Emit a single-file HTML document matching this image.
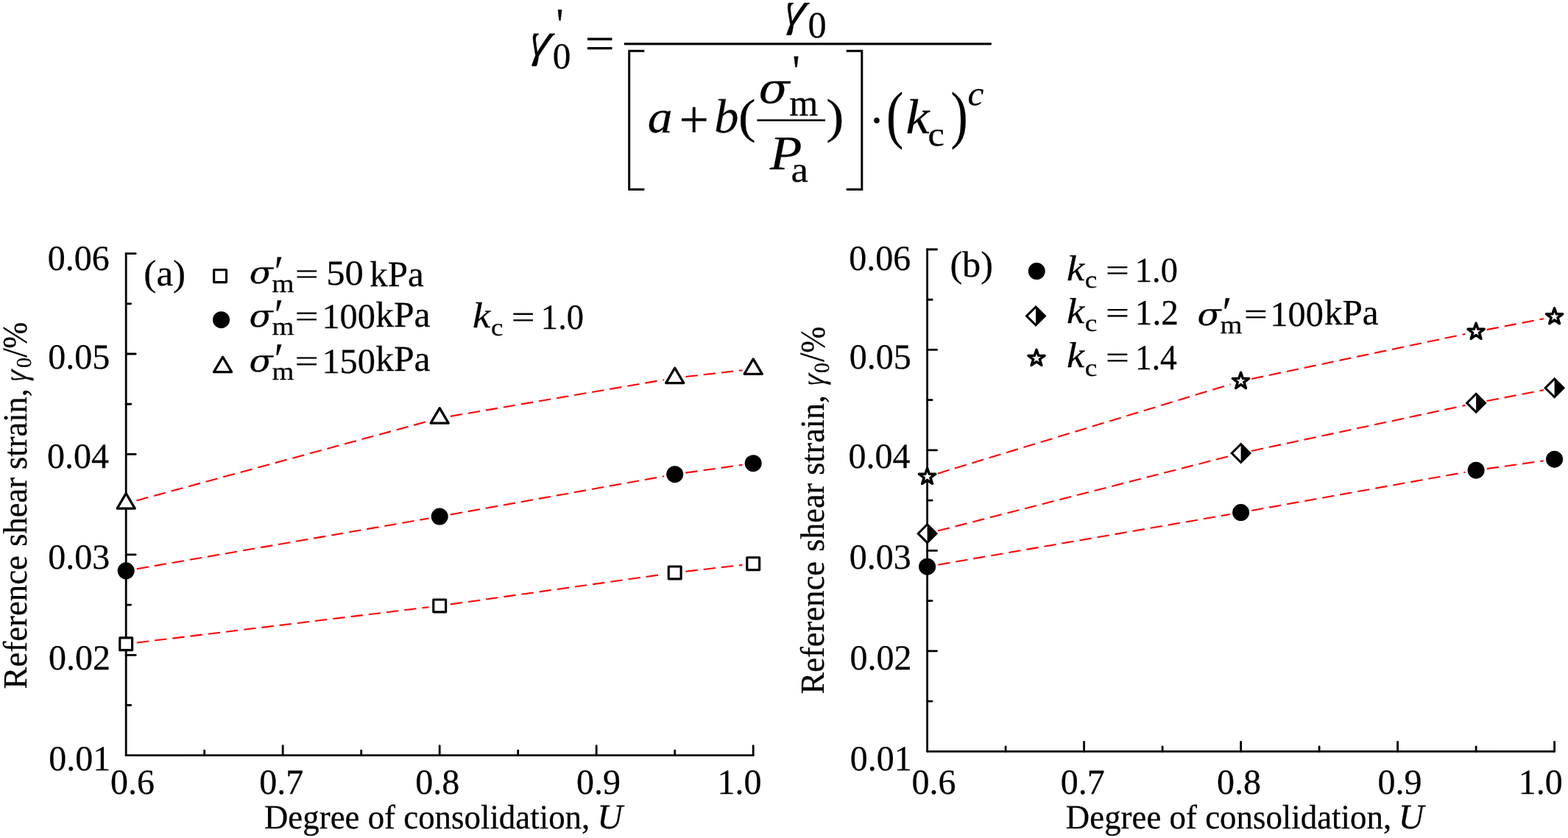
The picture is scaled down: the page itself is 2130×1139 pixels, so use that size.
<!DOCTYPE html>
<html lang="en"><head><meta charset="utf-8"><title>Reference shear strain versus degree of consolidation</title>
<style>
html,body{margin:0;padding:0;background:#fff;}
body{width:2130px;height:1139px;overflow:hidden;}
svg{display:block;font-family:"Liberation Serif","DejaVu Serif",serif;fill:#000;}
text{stroke:#000;stroke-width:0.25px;}
text{white-space:pre;text-rendering:geometricPrecision;}
</style></head><body>
<svg width="2130" height="1139" viewBox="0 0 2130 1139">
<rect width="2130" height="1139" fill="#fff"/>
<g id="formula">
<text transform="translate(744.75 76.21) scale(1.0443 1) skewX(-16) scale(-1 1)" font-size="65.78">γ</text>
<text transform="translate(750.81 92.85) scale(0.9904 1)" font-size="49.75">0</text>
<text transform="translate(755.43 54.28) scale(0.8957 1)" font-size="62.17" stroke="none">'</text>
<text transform="translate(794.52 79.95) scale(1.1468 1)" font-size="62.24">=</text>
<line x1="847.90" y1="59.70" x2="1346.80" y2="59.70" stroke="#000" stroke-width="3.2" stroke-linecap="butt"/>
<text transform="translate(1090.74 34.11) scale(1.0428 1) skewX(-16) scale(-1 1)" font-size="65.56">γ</text>
<text transform="translate(1097.52 51.25) scale(0.9977 1)" font-size="50.33">0</text>
<path d="M875.3 69.3 H854.7 V257.6 H875.3" fill="none" stroke="#000" stroke-width="3.0"/>
<path d="M1149.7 69.3 H1170.8 V257.6 H1149.7" fill="none" stroke="#000" stroke-width="3.0"/>
<text transform="translate(879.83 180.33) scale(1.077 1)" font-size="62.77" font-style="italic">a</text>
<text transform="translate(922.44 187.37) scale(0.9844 1)" font-size="72.9">+</text>
<text transform="translate(970.24 180.31) scale(1.0185 1)" font-size="65.4" font-style="italic">b</text>
<text transform="translate(1002.93 180.25) scale(1.0815 1)" font-size="65.3">(</text>
<text transform="translate(1030.39 140.26) scale(1.0907 1)" font-size="56.86" font-style="italic" stroke="none" font-family="'DejaVu Serif','Liberation Serif',serif">σ</text>
<text transform="translate(1072.3 157.1) scale(0.9949 1)" font-size="50.43">m</text>
<text transform="translate(1076.14 117.0) scale(0.9467 1)" font-size="61.49" stroke="none">'</text>
<line x1="1028.40" y1="163.50" x2="1121.00" y2="163.50" stroke="#000" stroke-width="2.4" stroke-linecap="butt"/>
<text transform="translate(1045.72 229.98) scale(1.088 1)" font-size="65.66" font-style="italic">P</text>
<text transform="translate(1074.6 247.31) scale(1.0761 1)" font-size="49.15">a</text>
<text transform="translate(1122.26 180.07) scale(1.1084 1)" font-size="65.45">)</text>
<text transform="translate(1180.27 184.69) scale(1.0 1)" font-size="64.34">·</text>
<text transform="translate(1204.06 184.86) scale(0.8038 1)" font-size="86.8">(</text>
<text transform="translate(1230.38 180.99) scale(1.0848 1)" font-size="66.59" font-style="italic">k</text>
<text transform="translate(1260.62 197.58) scale(1.0856 1)" font-size="46.42">c</text>
<text transform="translate(1291.59 184.86) scale(0.804 1)" font-size="86.8">)</text>
<text transform="translate(1314.5 142.9) scale(1.051 1)" font-size="46.85" font-style="italic">c</text>
</g>
<g id="plot-a">
<line x1="185.89" y1="873.49" x2="582.51" y2="825.22" stroke="#ff0000" stroke-width="2.1" stroke-dasharray="16.4 8"/>
<line x1="611.86" y1="821.37" x2="902.04" y2="780.48" stroke="#ff0000" stroke-width="2.1" stroke-dasharray="16.4 8"/>
<line x1="931.40" y1="776.72" x2="1008.50" y2="767.83" stroke="#ff0000" stroke-width="2.1" stroke-dasharray="16.4 8"/>
<line x1="185.78" y1="773.30" x2="582.62" y2="704.55" stroke="#ff0000" stroke-width="2.1" stroke-dasharray="16.4 8"/>
<line x1="611.77" y1="699.41" x2="902.13" y2="647.34" stroke="#ff0000" stroke-width="2.1" stroke-dasharray="16.4 8"/>
<line x1="931.36" y1="642.66" x2="1008.54" y2="631.78" stroke="#ff0000" stroke-width="2.1" stroke-dasharray="16.4 8"/>
<line x1="185.48" y1="680.40" x2="582.92" y2="572.22" stroke="#ff0000" stroke-width="2.1" stroke-dasharray="16.4 8"/>
<line x1="611.79" y1="565.84" x2="902.11" y2="516.25" stroke="#ff0000" stroke-width="2.1" stroke-dasharray="16.4 8"/>
<line x1="931.40" y1="512.07" x2="1008.50" y2="503.18" stroke="#ff0000" stroke-width="2.1" stroke-dasharray="16.4 8"/>
<line x1="171.20" y1="344.60" x2="171.20" y2="1026.70" stroke="#000" stroke-width="2.8" stroke-linecap="round"/>
<line x1="171.20" y1="1026.70" x2="1023.20" y2="1026.70" stroke="#000" stroke-width="2.8" stroke-linecap="round"/>
<line x1="171.20" y1="958.49" x2="177.70" y2="958.49" stroke="#000" stroke-width="2.8" stroke-linecap="round"/>
<line x1="171.20" y1="890.28" x2="184.20" y2="890.28" stroke="#000" stroke-width="2.8" stroke-linecap="round"/>
<line x1="171.20" y1="822.07" x2="177.70" y2="822.07" stroke="#000" stroke-width="2.8" stroke-linecap="round"/>
<line x1="171.20" y1="753.86" x2="184.20" y2="753.86" stroke="#000" stroke-width="2.8" stroke-linecap="round"/>
<line x1="171.20" y1="685.65" x2="177.70" y2="685.65" stroke="#000" stroke-width="2.8" stroke-linecap="round"/>
<line x1="171.20" y1="617.44" x2="184.20" y2="617.44" stroke="#000" stroke-width="2.8" stroke-linecap="round"/>
<line x1="171.20" y1="549.23" x2="177.70" y2="549.23" stroke="#000" stroke-width="2.8" stroke-linecap="round"/>
<line x1="171.20" y1="481.02" x2="184.20" y2="481.02" stroke="#000" stroke-width="2.8" stroke-linecap="round"/>
<line x1="171.20" y1="412.81" x2="177.70" y2="412.81" stroke="#000" stroke-width="2.8" stroke-linecap="round"/>
<line x1="171.20" y1="344.60" x2="184.20" y2="344.60" stroke="#000" stroke-width="2.8" stroke-linecap="round"/>
<line x1="277.70" y1="1026.70" x2="277.70" y2="1020.20" stroke="#000" stroke-width="2.8" stroke-linecap="round"/>
<line x1="384.20" y1="1026.70" x2="384.20" y2="1013.70" stroke="#000" stroke-width="2.8" stroke-linecap="round"/>
<line x1="490.70" y1="1026.70" x2="490.70" y2="1020.20" stroke="#000" stroke-width="2.8" stroke-linecap="round"/>
<line x1="597.20" y1="1026.70" x2="597.20" y2="1013.70" stroke="#000" stroke-width="2.8" stroke-linecap="round"/>
<line x1="703.70" y1="1026.70" x2="703.70" y2="1020.20" stroke="#000" stroke-width="2.8" stroke-linecap="round"/>
<line x1="810.20" y1="1026.70" x2="810.20" y2="1013.70" stroke="#000" stroke-width="2.8" stroke-linecap="round"/>
<line x1="916.70" y1="1026.70" x2="916.70" y2="1020.20" stroke="#000" stroke-width="2.8" stroke-linecap="round"/>
<line x1="1023.20" y1="1026.70" x2="1023.20" y2="1013.70" stroke="#000" stroke-width="2.8" stroke-linecap="round"/>
<rect x="162.77" y="866.85" width="16.85" height="16.85" fill="#fff" stroke="#000" stroke-width="3.15" stroke-linejoin="round"/>
<rect x="588.78" y="815.01" width="16.85" height="16.85" fill="#fff" stroke="#000" stroke-width="3.15" stroke-linejoin="round"/>
<rect x="908.27" y="769.99" width="16.85" height="16.85" fill="#fff" stroke="#000" stroke-width="3.15" stroke-linejoin="round"/>
<rect x="1014.78" y="757.71" width="16.85" height="16.85" fill="#fff" stroke="#000" stroke-width="3.15" stroke-linejoin="round"/>
<circle cx="171.20" cy="775.82" r="11.5" fill="#000"/>
<circle cx="597.20" cy="702.02" r="11.5" fill="#000"/>
<circle cx="916.70" cy="644.72" r="11.5" fill="#000"/>
<circle cx="1023.20" cy="629.72" r="11.5" fill="#000"/>
<path d="M171.20 670.62 L183.25 691.12 L159.15 691.12 Z" fill="#fff" stroke="#000" stroke-width="3.2" stroke-linejoin="round"/>
<path d="M597.20 554.66 L609.25 575.16 L585.15 575.16 Z" fill="#fff" stroke="#000" stroke-width="3.2" stroke-linejoin="round"/>
<path d="M916.70 500.09 L928.75 520.59 L904.65 520.59 Z" fill="#fff" stroke="#000" stroke-width="3.2" stroke-linejoin="round"/>
<path d="M1023.20 487.82 L1035.25 508.32 L1011.15 508.32 Z" fill="#fff" stroke="#000" stroke-width="3.2" stroke-linejoin="round"/>
<text x="64.74" y="366.8" font-size="48" textLength="84.00" lengthAdjust="spacingAndGlyphs">0.06</text>
<text x="65.22" y="500.6" font-size="48" textLength="84.00" lengthAdjust="spacingAndGlyphs">0.05</text>
<text x="64.02" y="636.4" font-size="48" textLength="84.00" lengthAdjust="spacingAndGlyphs">0.04</text>
<text x="65.22" y="772.8" font-size="48" textLength="84.00" lengthAdjust="spacingAndGlyphs">0.03</text>
<text x="65.94" y="910.3" font-size="48" textLength="84.00" lengthAdjust="spacingAndGlyphs">0.02</text>
<text x="66.18" y="1047.0" font-size="48" textLength="84.00" lengthAdjust="spacingAndGlyphs">0.01</text>
<text x="149.92" y="1078.6" font-size="48" textLength="60.00" lengthAdjust="spacingAndGlyphs">0.6</text>
<text x="352.22" y="1078.6" font-size="48" textLength="60.00" lengthAdjust="spacingAndGlyphs">0.7</text>
<text x="564.2" y="1078.6" font-size="48" textLength="60.00" lengthAdjust="spacingAndGlyphs">0.8</text>
<text x="783.06" y="1078.6" font-size="48" textLength="60.00" lengthAdjust="spacingAndGlyphs">0.9</text>
<text x="974.4" y="1078.6" font-size="48" textLength="60.00" lengthAdjust="spacingAndGlyphs">1.0</text>
<text transform="translate(358.95 1126.0) scale(0.969 1)" font-size="46.3" textLength="456.42" lengthAdjust="spacingAndGlyphs">Degree of consolidation,</text>
<text transform="translate(811.17 1125.92) scale(1.0051 1)" font-size="47.67" font-style="italic">U</text>
<text transform="translate(35.95 936.4) rotate(-90) scale(0.977 1)" font-size="45.8" textLength="185.59" lengthAdjust="spacingAndGlyphs">Reference</text>
<text transform="translate(35.95 742.84) rotate(-90) scale(0.9705 1)" font-size="45.8" textLength="221.29" lengthAdjust="spacingAndGlyphs">shear strain,</text>
<text transform="translate(35.9 505.66) rotate(-90) scale(0.7937 1) skewX(-16) scale(-1 1)" font-size="44.54">γ</text>
<text transform="translate(41.94 500.04) rotate(-90) scale(0.9803 1)" font-size="28.76">0</text>
<text transform="translate(35.75 485.85) rotate(-90) scale(0.9368 1)" font-size="47.58">/</text>
<text transform="translate(36.12 473.84) rotate(-90) scale(0.9206 1)" font-size="47.06">%</text>
<text transform="translate(195.35 388.39) scale(1.0278 1)" font-size="49.8" textLength="55.27" lengthAdjust="spacingAndGlyphs">(a)</text>
<rect x="290.63" y="366.76" width="16.85" height="16.85" fill="#fff" stroke="#000" stroke-width="3.15" stroke-linejoin="round"/>
<circle cx="300.50" cy="434.70" r="11.5" fill="#000"/>
<path d="M302.60 485.13 L314.65 505.63 L290.55 505.63 Z" fill="#fff" stroke="#000" stroke-width="3.2" stroke-linejoin="round"/>
<text transform="translate(338.72 385.48) scale(1.137 1)" font-size="41.36" font-style="italic" stroke="none" font-family="'DejaVu Serif','Liberation Serif',serif">σ</text>
<text transform="translate(372.75 389.24) scale(0.9362 1)" font-size="60.17" stroke="none">′</text>
<text transform="translate(369.25 397.16) scale(1.1226 1)" font-size="34.66">m</text>
<text transform="translate(401.03 385.61) scale(1.3835 1)" font-size="40.6">=</text>
<text transform="translate(443.24 386.59) scale(1.0581 1)" font-size="47.85" textLength="47.85" lengthAdjust="spacingAndGlyphs">50</text>
<text transform="translate(502.26 388.94) scale(0.9943 1)" font-size="49.17" textLength="73.75" lengthAdjust="spacingAndGlyphs">kPa</text>
<text transform="translate(338.39 443.69) scale(1.121 1)" font-size="42.13" font-style="italic" stroke="none" font-family="'DejaVu Serif','Liberation Serif',serif">σ</text>
<text transform="translate(372.64 447.66) scale(0.9263 1)" font-size="60.72" stroke="none">′</text>
<text transform="translate(369.42 455.21) scale(1.1186 1)" font-size="34.36">m</text>
<text transform="translate(400.77 444.02) scale(1.3454 1)" font-size="42.04">=</text>
<text transform="translate(437.41 445.72) scale(1.0104 1)" font-size="47.85" textLength="71.78" lengthAdjust="spacingAndGlyphs">100</text>
<text transform="translate(510.14 443.94) scale(1.0098 1)" font-size="49.17" textLength="73.75" lengthAdjust="spacingAndGlyphs">kPa</text>
<text transform="translate(338.39 504.67) scale(1.1285 1)" font-size="41.85" font-style="italic" stroke="none" font-family="'DejaVu Serif','Liberation Serif',serif">σ</text>
<text transform="translate(372.64 507.66) scale(0.9263 1)" font-size="60.72" stroke="none">′</text>
<text transform="translate(369.42 516.19) scale(1.1291 1)" font-size="34.04">m</text>
<text transform="translate(400.77 505.28) scale(1.3215 1)" font-size="42.8">=</text>
<text transform="translate(437.41 506.84) scale(1.0104 1)" font-size="47.85" textLength="71.78" lengthAdjust="spacingAndGlyphs">150</text>
<text transform="translate(510.14 503.94) scale(1.0098 1)" font-size="49.17" textLength="73.75" lengthAdjust="spacingAndGlyphs">kPa</text>
<text transform="translate(641.89 445.07) scale(1.1078 1)" font-size="49.18" font-style="italic">k</text>
<text transform="translate(666.92 455.63) scale(1.1074 1)" font-size="33.47">c</text>
<text transform="translate(694.78 445.15) scale(1.3449 1)" font-size="42.04">=</text>
<text transform="translate(734.85 446.98) scale(0.9688 1)" font-size="48.06" textLength="60.07" lengthAdjust="spacingAndGlyphs">1.0</text>
</g>
<g id="plot-b">
<line x1="1274.18" y1="767.69" x2="1671.02" y2="699.05" stroke="#ff0000" stroke-width="2.1" stroke-dasharray="16.4 8"/>
<line x1="1700.17" y1="693.91" x2="1990.53" y2="641.83" stroke="#ff0000" stroke-width="2.1" stroke-dasharray="16.4 8"/>
<line x1="2019.76" y1="637.15" x2="2096.94" y2="626.27" stroke="#ff0000" stroke-width="2.1" stroke-dasharray="16.4 8"/>
<line x1="1273.94" y1="721.51" x2="1671.26" y2="619.69" stroke="#ff0000" stroke-width="2.1" stroke-dasharray="16.4 8"/>
<line x1="1700.07" y1="612.92" x2="1990.63" y2="550.87" stroke="#ff0000" stroke-width="2.1" stroke-dasharray="16.4 8"/>
<line x1="2019.63" y1="544.99" x2="2097.07" y2="530.11" stroke="#ff0000" stroke-width="2.1" stroke-dasharray="16.4 8"/>
<line x1="1273.76" y1="643.63" x2="1671.44" y2="522.35" stroke="#ff0000" stroke-width="2.1" stroke-dasharray="16.4 8"/>
<line x1="1700.08" y1="514.99" x2="1990.62" y2="453.94" stroke="#ff0000" stroke-width="2.1" stroke-dasharray="16.4 8"/>
<line x1="2019.63" y1="448.10" x2="2097.07" y2="433.22" stroke="#ff0000" stroke-width="2.1" stroke-dasharray="16.4 8"/>
<line x1="1259.60" y1="339.00" x2="1259.60" y2="1021.30" stroke="#000" stroke-width="2.8" stroke-linecap="round"/>
<line x1="1259.60" y1="1021.30" x2="2111.60" y2="1021.30" stroke="#000" stroke-width="2.8" stroke-linecap="round"/>
<line x1="1259.60" y1="953.07" x2="1266.10" y2="953.07" stroke="#000" stroke-width="2.8" stroke-linecap="round"/>
<line x1="1259.60" y1="884.84" x2="1272.60" y2="884.84" stroke="#000" stroke-width="2.8" stroke-linecap="round"/>
<line x1="1259.60" y1="816.61" x2="1266.10" y2="816.61" stroke="#000" stroke-width="2.8" stroke-linecap="round"/>
<line x1="1259.60" y1="748.38" x2="1272.60" y2="748.38" stroke="#000" stroke-width="2.8" stroke-linecap="round"/>
<line x1="1259.60" y1="680.15" x2="1266.10" y2="680.15" stroke="#000" stroke-width="2.8" stroke-linecap="round"/>
<line x1="1259.60" y1="611.92" x2="1272.60" y2="611.92" stroke="#000" stroke-width="2.8" stroke-linecap="round"/>
<line x1="1259.60" y1="543.69" x2="1266.10" y2="543.69" stroke="#000" stroke-width="2.8" stroke-linecap="round"/>
<line x1="1259.60" y1="475.46" x2="1272.60" y2="475.46" stroke="#000" stroke-width="2.8" stroke-linecap="round"/>
<line x1="1259.60" y1="407.23" x2="1266.10" y2="407.23" stroke="#000" stroke-width="2.8" stroke-linecap="round"/>
<line x1="1259.60" y1="339.00" x2="1272.60" y2="339.00" stroke="#000" stroke-width="2.8" stroke-linecap="round"/>
<line x1="1366.10" y1="1021.30" x2="1366.10" y2="1014.80" stroke="#000" stroke-width="2.8" stroke-linecap="round"/>
<line x1="1472.60" y1="1021.30" x2="1472.60" y2="1008.30" stroke="#000" stroke-width="2.8" stroke-linecap="round"/>
<line x1="1579.10" y1="1021.30" x2="1579.10" y2="1014.80" stroke="#000" stroke-width="2.8" stroke-linecap="round"/>
<line x1="1685.60" y1="1021.30" x2="1685.60" y2="1008.30" stroke="#000" stroke-width="2.8" stroke-linecap="round"/>
<line x1="1792.10" y1="1021.30" x2="1792.10" y2="1014.80" stroke="#000" stroke-width="2.8" stroke-linecap="round"/>
<line x1="1898.60" y1="1021.30" x2="1898.60" y2="1008.30" stroke="#000" stroke-width="2.8" stroke-linecap="round"/>
<line x1="2005.10" y1="1021.30" x2="2005.10" y2="1014.80" stroke="#000" stroke-width="2.8" stroke-linecap="round"/>
<line x1="2111.60" y1="1021.30" x2="2111.60" y2="1008.30" stroke="#000" stroke-width="2.8" stroke-linecap="round"/>
<circle cx="1259.60" cy="770.21" r="11.5" fill="#000"/>
<circle cx="1685.60" cy="696.53" r="11.5" fill="#000"/>
<circle cx="2005.10" cy="639.21" r="11.5" fill="#000"/>
<circle cx="2111.60" cy="624.20" r="11.5" fill="#000"/>
<path d="M1259.60 712.78 L1272.00 725.18 L1259.60 737.58 L1247.20 725.18 Z" fill="#fff" stroke="#000" stroke-width="3.0" stroke-linejoin="miter"/>
<path d="M1259.60 712.78 L1272.00 725.18 L1259.60 737.58 Z" fill="#000"/>
<path d="M1685.60 603.61 L1698.00 616.01 L1685.60 628.41 L1673.20 616.01 Z" fill="#fff" stroke="#000" stroke-width="3.0" stroke-linejoin="miter"/>
<path d="M1685.60 603.61 L1698.00 616.01 L1685.60 628.41 Z" fill="#000"/>
<path d="M2005.10 535.38 L2017.50 547.78 L2005.10 560.18 L1992.70 547.78 Z" fill="#fff" stroke="#000" stroke-width="3.0" stroke-linejoin="miter"/>
<path d="M2005.10 535.38 L2017.50 547.78 L2005.10 560.18 Z" fill="#000"/>
<path d="M2111.60 514.91 L2124.00 527.31 L2111.60 539.71 L2099.20 527.31 Z" fill="#fff" stroke="#000" stroke-width="3.0" stroke-linejoin="miter"/>
<path d="M2111.60 514.91 L2124.00 527.31 L2111.60 539.71 Z" fill="#000"/>
<path d="M1259.60 636.30 L1262.30 644.22 L1270.68 644.35 L1263.97 649.37 L1266.45 657.37 L1259.60 652.55 L1252.75 657.37 L1255.23 649.37 L1248.52 644.35 L1256.90 644.22 Z" fill="#fff" stroke="#000" stroke-width="3.5" stroke-linejoin="round"/>
<path d="M1685.60 506.39 L1688.30 514.31 L1696.68 514.44 L1689.97 519.46 L1692.45 527.46 L1685.60 522.64 L1678.75 527.46 L1681.23 519.46 L1674.52 514.44 L1682.90 514.31 Z" fill="#fff" stroke="#000" stroke-width="3.5" stroke-linejoin="round"/>
<path d="M2005.10 439.25 L2007.80 447.18 L2016.18 447.30 L2009.47 452.32 L2011.95 460.32 L2005.10 455.50 L1998.25 460.32 L2000.73 452.32 L1994.02 447.30 L2002.40 447.18 Z" fill="#fff" stroke="#000" stroke-width="3.5" stroke-linejoin="round"/>
<path d="M2111.60 418.78 L2114.30 426.71 L2122.68 426.83 L2115.97 431.85 L2118.45 439.85 L2111.60 435.03 L2104.75 439.85 L2107.23 431.85 L2100.52 426.83 L2108.90 426.71 Z" fill="#fff" stroke="#000" stroke-width="3.5" stroke-linejoin="round"/>
<text x="1153.34" y="366.8" font-size="48" textLength="84.00" lengthAdjust="spacingAndGlyphs">0.06</text>
<text x="1153.82" y="500.6" font-size="48" textLength="84.00" lengthAdjust="spacingAndGlyphs">0.05</text>
<text x="1152.62" y="636.4" font-size="48" textLength="84.00" lengthAdjust="spacingAndGlyphs">0.04</text>
<text x="1153.82" y="772.8" font-size="48" textLength="84.00" lengthAdjust="spacingAndGlyphs">0.03</text>
<text x="1154.54" y="910.3" font-size="48" textLength="84.00" lengthAdjust="spacingAndGlyphs">0.02</text>
<text x="1154.78" y="1047.0" font-size="48" textLength="84.00" lengthAdjust="spacingAndGlyphs">0.01</text>
<text x="1238.62" y="1078.6" font-size="48" textLength="60.00" lengthAdjust="spacingAndGlyphs">0.6</text>
<text x="1440.82" y="1078.6" font-size="48" textLength="60.00" lengthAdjust="spacingAndGlyphs">0.7</text>
<text x="1652.9" y="1078.6" font-size="48" textLength="60.00" lengthAdjust="spacingAndGlyphs">0.8</text>
<text x="1871.56" y="1078.6" font-size="48" textLength="60.00" lengthAdjust="spacingAndGlyphs">0.9</text>
<text x="2062.8" y="1078.6" font-size="48" textLength="60.00" lengthAdjust="spacingAndGlyphs">1.0</text>
<text transform="translate(1447.85 1126.0) scale(0.969 1)" font-size="46.3" textLength="456.42" lengthAdjust="spacingAndGlyphs">Degree of consolidation,</text>
<text transform="translate(1899.77 1125.92) scale(1.0051 1)" font-size="47.67" font-style="italic">U</text>
<text transform="translate(1119.09 943.39) rotate(-90) scale(0.9715 1)" font-size="45.8" textLength="185.59" lengthAdjust="spacingAndGlyphs">Reference</text>
<text transform="translate(1119.09 749.86) rotate(-90) scale(0.9622 1)" font-size="45.8" textLength="221.29" lengthAdjust="spacingAndGlyphs">shear strain,</text>
<text transform="translate(1119.32 511.32) rotate(-90) scale(0.8076 1) skewX(-16) scale(-1 1)" font-size="44.55">γ</text>
<text transform="translate(1125.64 507.04) rotate(-90) scale(0.9668 1)" font-size="29.16">0</text>
<text transform="translate(1119.33 491.64) rotate(-90) scale(0.9159 1)" font-size="47.88">/</text>
<text transform="translate(1119.8 479.64) rotate(-90) scale(0.9203 1)" font-size="47.07">%</text>
<text transform="translate(1290.39 376.39) scale(1.0108 1)" font-size="49.66" textLength="57.91" lengthAdjust="spacingAndGlyphs">(b)</text>
<circle cx="1408.26" cy="368.57" r="11.5" fill="#000"/>
<path d="M1407.00 417.10 L1419.40 429.50 L1407.00 441.90 L1394.60 429.50 Z" fill="#fff" stroke="#000" stroke-width="3.0" stroke-linejoin="miter"/>
<path d="M1407.00 417.10 L1419.40 429.50 L1407.00 441.90 Z" fill="#000"/>
<path d="M1408.00 475.35 L1410.70 483.28 L1419.08 483.40 L1412.37 488.42 L1414.85 496.43 L1408.00 491.60 L1401.15 496.43 L1403.63 488.42 L1396.92 483.40 L1405.30 483.28 Z" fill="#fff" stroke="#000" stroke-width="3.5" stroke-linejoin="round"/>
<text transform="translate(1448.89 380.97) scale(1.1138 1)" font-size="48.89" font-style="italic">k</text>
<text transform="translate(1473.76 391.38) scale(1.1455 1)" font-size="32.68">c</text>
<text transform="translate(1501.92 380.87) scale(1.3736 1)" font-size="41.16">=</text>
<text transform="translate(1541.85 382.7) scale(0.9795 1)" font-size="47.44" textLength="59.30" lengthAdjust="spacingAndGlyphs">1.0</text>
<text transform="translate(1448.89 438.94) scale(1.1138 1)" font-size="48.89" font-style="italic">k</text>
<text transform="translate(1473.76 449.51) scale(1.134 1)" font-size="33.02">c</text>
<text transform="translate(1501.92 438.92) scale(1.363 1)" font-size="41.48">=</text>
<text transform="translate(1541.79 440.97) scale(0.9752 1)" font-size="48.41" textLength="60.51" lengthAdjust="spacingAndGlyphs">1.2</text>
<text transform="translate(1448.89 498.94) scale(1.1138 1)" font-size="48.89" font-style="italic">k</text>
<text transform="translate(1473.76 510.63) scale(1.1186 1)" font-size="33.47">c</text>
<text transform="translate(1501.92 500.15) scale(1.3449 1)" font-size="42.04">=</text>
<text transform="translate(1541.93 501.95) scale(0.9417 1)" font-size="48.38" textLength="60.47" lengthAdjust="spacingAndGlyphs">1.4</text>
<text transform="translate(1626.39 441.54) scale(1.129 1)" font-size="41.83" font-style="italic" stroke="none" font-family="'DejaVu Serif','Liberation Serif',serif">σ</text>
<text transform="translate(1660.54 444.54) scale(0.9593 1)" font-size="60.72" stroke="none">′</text>
<text transform="translate(1657.42 453.22) scale(1.119 1)" font-size="34.36">m</text>
<text transform="translate(1689.92 441.0) scale(1.3539 1)" font-size="41.76">=</text>
<text transform="translate(1725.42 442.59) scale(1.0151 1)" font-size="47.63" textLength="71.44" lengthAdjust="spacingAndGlyphs">100</text>
<text transform="translate(1798.9 440.82) scale(1.0061 1)" font-size="48.85" textLength="73.27" lengthAdjust="spacingAndGlyphs">kPa</text>
</g>
</svg>
</body></html>
